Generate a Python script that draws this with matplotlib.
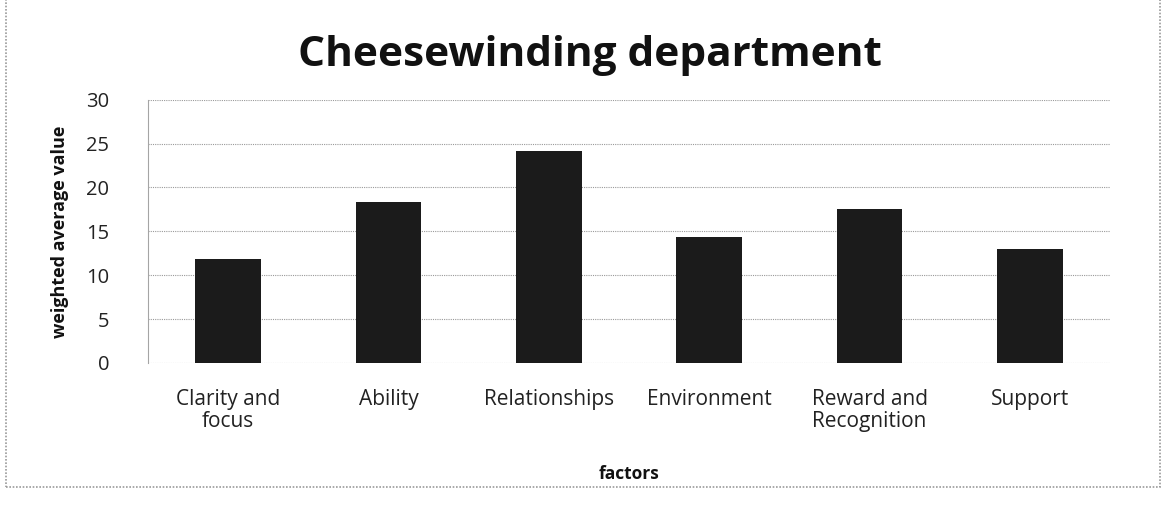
import matplotlib
matplotlib.use("Agg")
import matplotlib.pyplot as plt
from matplotlib.patches import Rectangle

# values
factors = ["Clarity and\nfocus", "Ability", "Relationships", "Environment",
           "Reward and\nRecognition", "Support"]
weighted_avg = [11.9, 18.4, 24.2, 14.3, 17.6, 13.0]
yticks = [0, 5, 10, 15, 20, 25, 30]

plt.rcParams["font.family"] = ["Open Sans", "DejaVu Sans"]

fig = plt.figure(figsize=(11.66, 5.17), dpi=100)
ax = fig.add_axes([0.127, 0.298, 0.825, 0.509])

x = range(len(factors))
ax.bar(x, weighted_avg, width=0.41, color="#1b1b1b", zorder=3)

ax.set_xlim(-0.5, len(factors) - 0.5)
ax.set_ylim(0, 30)
ax.set_yticks(yticks)
ax.set_xticks(list(x))
ax.set_xticklabels(factors, fontsize=15, color="#222222", linespacing=1.05)
ax.tick_params(axis="x", length=0, pad=19)
ax.tick_params(axis="y", length=0, pad=28, labelsize=14.5, labelcolor="#222222")

ax.grid(axis="y", linestyle=(0, (1, 1)), color="#9a9a9a", linewidth=0.8, zorder=0)
for s in ["top", "right", "bottom"]:
    ax.spines[s].set_visible(False)
ax.spines["left"].set_linestyle((0, (1, 1)))
ax.spines["left"].set_color("#a5a5a5")
ax.spines["left"].set_linewidth(0.8)

ax.set_ylabel("weighted average value", fontsize=13, fontweight="bold",
              labelpad=12, color="#111111")
ax.set_xlabel("factors", fontsize=12.5, fontweight="bold", labelpad=24,
              color="#111111")
fig.text(0.506, 0.893, "Cheesewinding department", ha="center", va="center",
         fontsize=30.5, fontweight="bold", color="#111111")

# outer chart frame (partly cut off at the top in the scan)
frame = Rectangle((0.005, 0.058), 0.99, 1.2, transform=fig.transFigure,
                  fill=False, edgecolor="#9a9a9a", linewidth=1.2,
                  linestyle=(0, (1, 1)))
fig.patches.append(frame)

fig.savefig("out.png", dpi=100, facecolor="white")
